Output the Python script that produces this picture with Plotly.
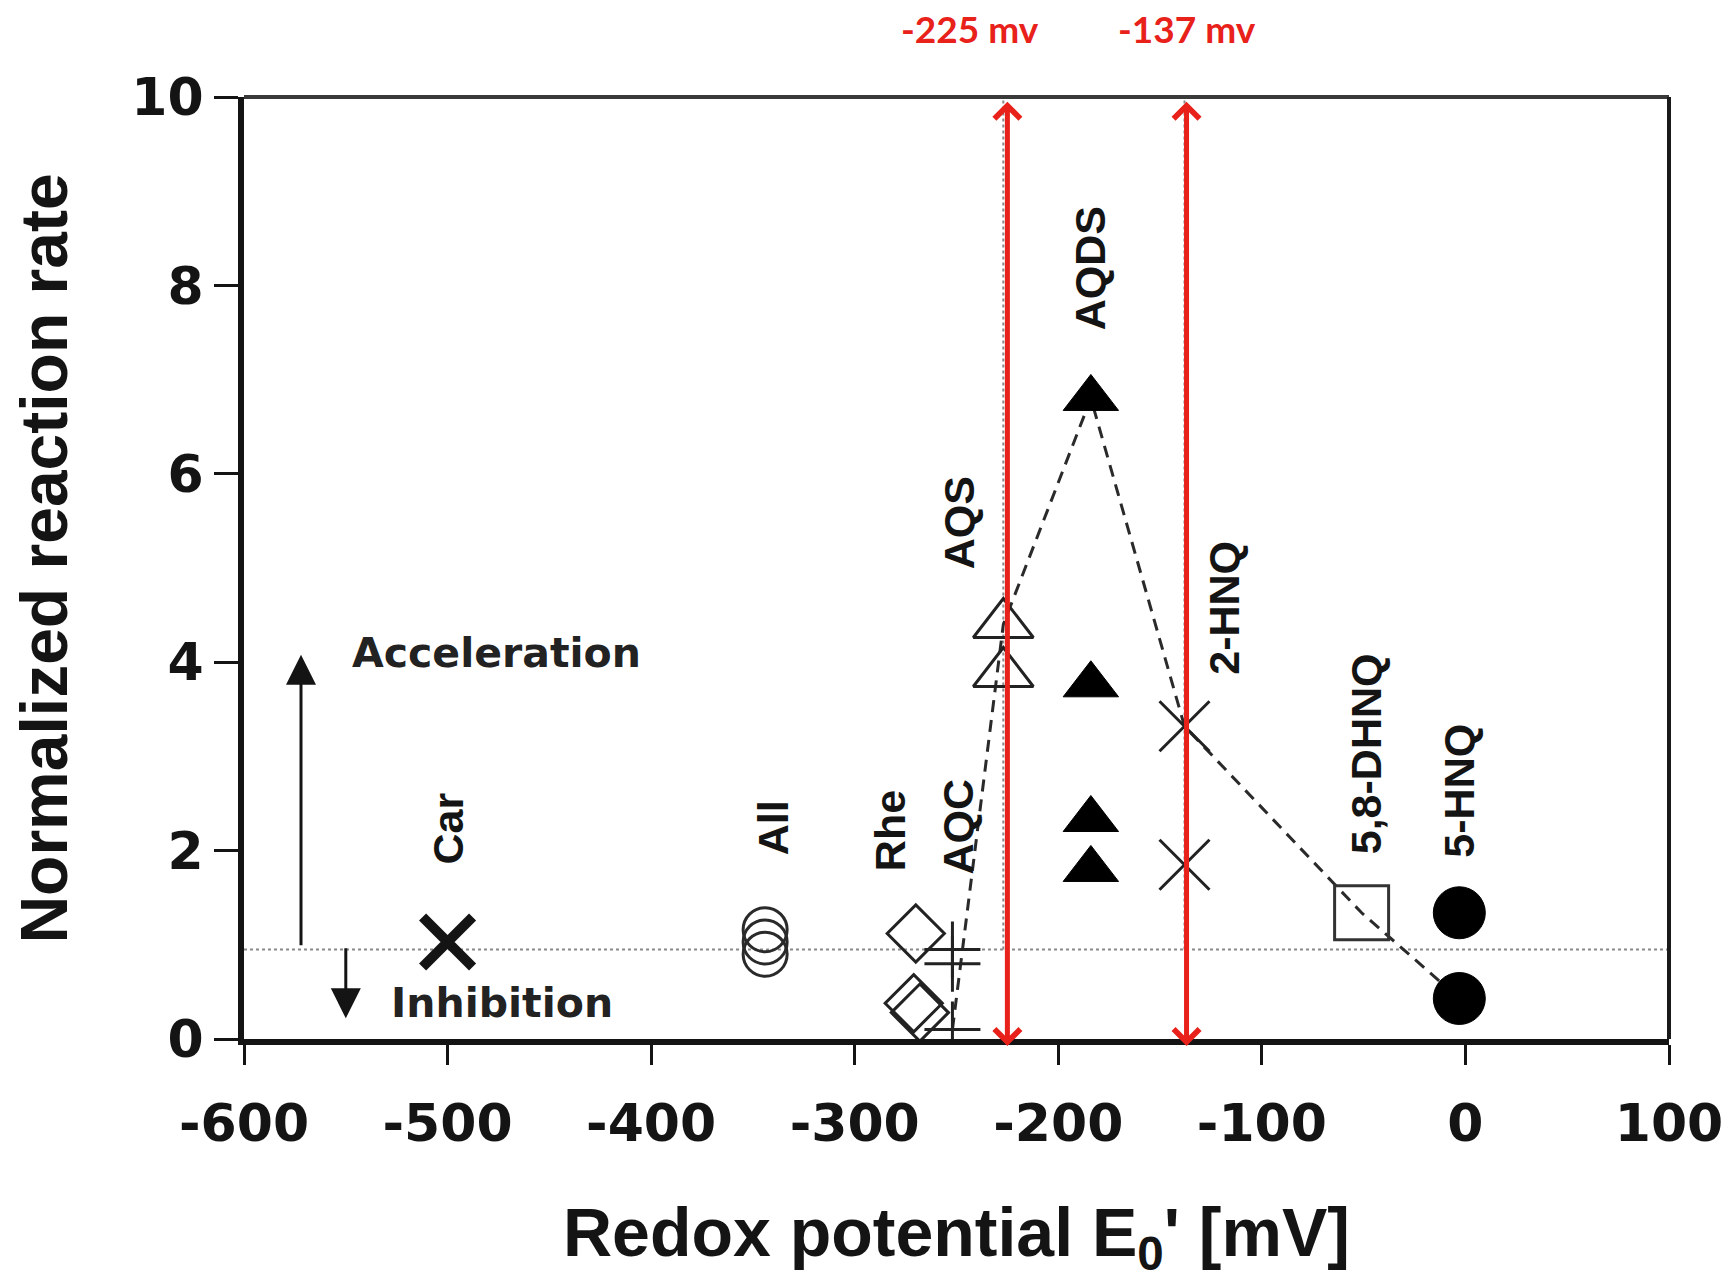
import plotly.graph_objects as go

# Redox potential E0' (mV) and normalized reaction rate for each mediator
car_x = [-500]
car_y = [1.03]
all_x = [-344, -344, -344]
all_y = [0.90, 1.03, 1.16]
rhe_x = [-270, -271, -268]
rhe_y = [1.12, 0.38, 0.28]
aqc_x = [-252, -252, -252]
aqc_y = [0.95, 0.80, 0.10]
aqs_x = [-227, -227]
aqs_y = [4.40, 3.88]
aqds_x = [-184, -184, -184, -184]
aqds_y = [6.80, 3.76, 2.33, 1.80]
hnq2_x = [-138, -138]
hnq2_y = [3.32, 1.85]
dhnq_x = [-51]
dhnq_y = [1.34]
hnq5_x = [-3, -3]
hnq5_y = [1.34, 0.43]

# dashed trend through the mediator series
trend_x = [-252, -227, -184, -138, -51, -3]
trend_y = [0.10, 4.40, 6.80, 3.32, 1.34, 0.43]

# reference levels
baseline_y = 0.95
guide_x = [-227, -138]
marked_potentials = [-225, -137]
marked_labels = ["-225 mv", "-137 mv"]

x_ticks = [-600, -500, -400, -300, -200, -100, 0, 100]
x_tick_labels = ["-600", "-500", "-400", "-300", "-200", "-100", "0", "100"]
y_ticks = [0, 2, 4, 6, 8, 10]
y_tick_labels = ["0", "2", "4", "6", "8", "10"]

compound_names = ["Car", "All", "Rhe", "AQC", "AQS", "AQDS", "2-HNQ", "5,8-DHNQ", "5-HNQ"]

INK = "#141414"
RED = "#e8211a"

fig = go.Figure()

# reference guides (dotted)
fig.add_trace(go.Scatter(x=[-600, 100], y=[baseline_y, baseline_y], mode="lines",
                         line=dict(color="#8a8a8a", width=2, dash="dot"), hoverinfo="skip"))
for gx in guide_x:
    fig.add_trace(go.Scatter(x=[gx, gx], y=[baseline_y, 10], mode="lines",
                             line=dict(color="#8a8a8a", width=2, dash="dot"), hoverinfo="skip"))

# dashed trend line
fig.add_trace(go.Scatter(x=trend_x, y=trend_y, mode="lines",
                         line=dict(color="#2a2a2a", width=3, dash="12px,8px")))


def add_points(xs, ys, symbol, size, color=INK, lw=3, fill=None):
    fig.add_trace(go.Scatter(
        x=xs, y=ys, mode="markers",
        marker=dict(symbol=symbol, size=size, color=fill if fill else color,
                    line=dict(color=color, width=lw)),
    ))


add_points(car_x, car_y, "x-thin-open", 50, lw=10)
add_points(all_x, all_y, "circle-open", 44, color="#2a2a2a", lw=3)
add_points(rhe_x, rhe_y, "diamond-open", 44, color="#222222", lw=3)
add_points(aqc_x, aqc_y, "cross-thin-open", 40, color="#222222", lw=3)
add_points(aqs_x, aqs_y, "triangle-up-open", 52, color="#222222", lw=3)
add_points(aqds_x, aqds_y, "triangle-up", 48, color="#000000", lw=1, fill="#000000")
add_points(hnq2_x, hnq2_y, "x-thin-open", 50, color="#222222", lw=3)
add_points(dhnq_x, dhnq_y, "square-open", 54, color="#333333", lw=3)
add_points(hnq5_x, hnq5_y, "circle", 52, color="#000000", lw=1, fill="#000000")

annotations = []

# rotated compound labels
label_pos = [(-500, 2.23), (-340, 2.24), (-283, 2.21), (-249, 2.25), (-249, 5.48),
             (-184, 8.18), (-119, 4.58), (-49, 3.03), (-3, 2.64)]
for name, (lx, ly) in zip(compound_names, label_pos):
    annotations.append(dict(x=lx, y=ly, xref="x", yref="y", text=name, showarrow=False,
                            textangle=-90, xanchor="center", yanchor="middle",
                            font=dict(family="Liberation Sans, Arial", size=43,
                                      weight="bold", color=INK)))

# acceleration / inhibition arrows and captions
annotations.append(dict(x=-572, y=4.08, ax=-572, ay=0.98, xref="x", yref="y",
                        axref="x", ayref="y", text="", showarrow=True, arrowhead=2,
                        arrowsize=2, arrowwidth=3, arrowcolor=INK))
annotations.append(dict(x=-550, y=0.22, ax=-550, ay=0.98, xref="x", yref="y",
                        axref="x", ayref="y", text="", showarrow=True, arrowhead=2,
                        arrowsize=2, arrowwidth=3, arrowcolor=INK))
annotations.append(dict(x=-548, y=4.1, xref="x", yref="y", text="Acceleration",
                        showarrow=False, xanchor="left", yanchor="middle",
                        font=dict(family="DejaVu Sans", size=41, weight="bold", color="#222222")))
annotations.append(dict(x=-529, y=0.38, xref="x", yref="y", text="Inhibition",
                        showarrow=False, xanchor="left", yanchor="middle",
                        font=dict(family="DejaVu Sans", size=41, weight="bold", color="#222222")))

# marked potentials: red double-headed arrows with labels
label_shift = [-37, 0]
for px, txt, sh in zip(marked_potentials, marked_labels, label_shift):
    annotations.append(dict(x=px, y=9.95, ax=px, ay=-0.09, xref="x", yref="y",
                            axref="x", ayref="y", text="", showarrow=True,
                            arrowhead=4, startarrowhead=4, arrowside="end+start",
                            arrowsize=1, startarrowsize=1, arrowwidth=5, arrowcolor=RED))
    annotations.append(dict(x=px, y=1, xref="x", yref="paper", yshift=69, xshift=sh,
                            text=txt, showarrow=False, xanchor="center", yanchor="middle",
                            font=dict(family="Lato", size=37, weight="bold", color=RED)))

# axis titles
annotations.append(dict(x=0.5, y=0, xref="paper", yref="paper", yshift=-198,
                        text="Redox potential E<sub>0</sub>' [mV]", showarrow=False,
                        xanchor="center", yanchor="middle",
                        font=dict(family="Liberation Sans, Arial", size=68, weight="bold", color=INK)))
annotations.append(dict(x=0, y=0.51, xref="paper", yref="paper", xshift=-200,
                        text="Normalized reaction rate", showarrow=False, textangle=-90,
                        xanchor="center", yanchor="middle",
                        font=dict(family="Liberation Sans, Arial", size=66, weight="bold", color=INK)))

# top and right frame edges
shapes = [
    dict(type="line", xref="paper", yref="paper", x0=0, x1=1, y0=1, y1=1,
         line=dict(color="#3a3a3a", width=4)),
    dict(type="line", xref="paper", yref="paper", x0=1, x1=1, y0=0, y1=1,
         line=dict(color="#1a1a1a", width=4)),
]

fig.update_layout(
    width=1735, height=1281,
    margin=dict(l=244, r=62, t=97, b=242),
    paper_bgcolor="white", plot_bgcolor="white",
    showlegend=False,
    annotations=annotations,
    shapes=shapes,
)

tick_font = dict(family="DejaVu Sans", size=52, weight="bold", color=INK)
fig.update_xaxes(range=[-600, 100], tickvals=x_ticks, ticktext=x_tick_labels,
                 showgrid=False, zeroline=False, showline=True, linewidth=6, linecolor=INK,
                 ticks="outside", ticklen=20, tickwidth=3, tickcolor=INK,
                 tickfont=tick_font, ticklabelstandoff=14)
fig.update_yaxes(range=[0, 10], tickvals=y_ticks, ticktext=y_tick_labels,
                 showgrid=False, zeroline=False, showline=True, linewidth=6, linecolor=INK,
                 ticks="outside", ticklen=24, tickwidth=3, tickcolor=INK,
                 tickfont=tick_font, ticklabelstandoff=0)

fig.write_html("out.html")
